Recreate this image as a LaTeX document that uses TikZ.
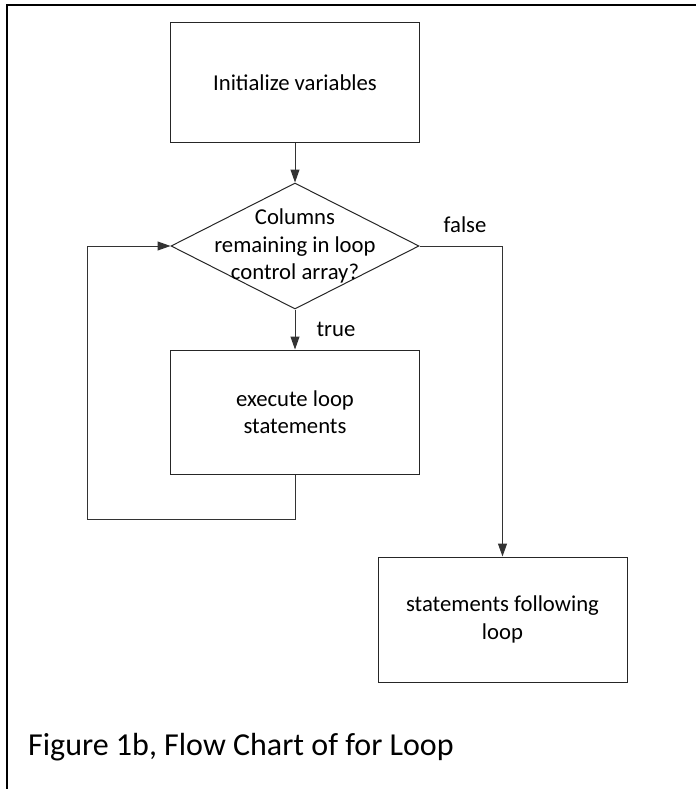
\documentclass[tikz,border=0pt]{standalone}
\usepackage{fontspec}
\setmainfont{Carlito}
\usetikzlibrary{arrows.meta,shapes.geometric}
\begin{document}
\begin{tikzpicture}[x=1pt,y=1pt,
  every node/.style={inner sep=0pt,font=\fontsize{22.7}{27.5}\selectfont},
  stepbox/.style={draw=black!85,line width=1pt,rectangle,minimum width=249pt,minimum height=124pt,align=center},
  decision/.style={draw=black!85,line width=1pt,diamond,minimum width=248pt,minimum height=126pt},
  flow/.style={draw=black!80,line width=1pt,-{Triangle[length=13pt,width=9pt]}},
  plain/.style={draw=black!80,line width=1pt}]
\useasboundingbox (0,0) rectangle (696,-789);
\draw [line width=2.2pt] (7,-789) -- (7,-5) -- (696,-5);
\node [stepbox,minimum height=119pt] (init) at (295,-82.5) {Initialize variables};
\node [decision] (cond) at (295,-246) {};
\node [align=center] (condtext) at (295,-246) {Columns\\remaining in loop\\control array?};
\node [stepbox] (body) at (295,-412) {execute loop\\statements};
\node [stepbox,minimum height=125pt] (after) at (502.5,-619.5) {statements following\\loop};
\node (falselbl) at (465,-225) {false};
\node (truelbl) at (336,-329) {true};
\coordinate (turn) at (after.north |- cond.east);
\coordinate (loopdown) at (295,-519);
\coordinate (loopleft) at (87,-519);
\coordinate (loopup) at (87,-246);
\draw [flow] (init.south) -- (cond.north);
\draw [flow] (cond.south) -- (body.north);
\draw [flow] (cond.east) -- (turn) -- (after.north);
\draw [plain] (body.south) -- (loopdown) -- (loopleft) -- (loopup);
\draw [flow] (loopup) -- (cond.west);
\node [anchor=base west,font=\fontsize{32}{38}\selectfont] (caption) at (28,-755) {Figure 1b, Flow Chart of for Loop};
\end{tikzpicture}
\end{document}
